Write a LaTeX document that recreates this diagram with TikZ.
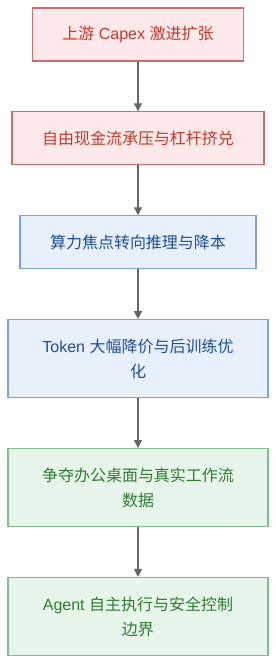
\documentclass[tikz,border=0pt]{standalone}
\usepackage{fontspec}
\setmainfont{Liberation Sans}
\newfontfamily\cjk{Noto Sans CJK SC}
\usetikzlibrary{arrows.meta, positioning}

\definecolor{redfill}{HTML}{FDE9E9}
\definecolor{redline}{HTML}{D46A6A}
\definecolor{redtext}{HTML}{C0392B}
\definecolor{bluefill}{HTML}{E8F0FC}
\definecolor{blueline}{HTML}{7AA3D9}
\definecolor{bluetext}{HTML}{1F4E96}
\definecolor{greenfill}{HTML}{E8F5EA}
\definecolor{greenline}{HTML}{7FBF8F}
\definecolor{greentext}{HTML}{2E7D32}
\definecolor{arrowgray}{HTML}{666666}

\newcommand{\zh}[1]{{\cjk #1}}

\begin{document}
\begin{tikzpicture}[
  font=\fontsize{16pt}{25pt}\selectfont,
  arrow/.style={-{Triangle[length=8pt,width=8pt]}, line width=1.1pt, arrowgray},
  box/.style={
    draw,
    line width=1.1pt,
    align=center,
    minimum height=53pt,
    inner sep=0pt
  },
  tallbox/.style={box, minimum height=78pt, minimum width=260pt},
  redbox/.style={box, fill=redfill, draw=redline, text=redtext},
  bluebox/.style={fill=bluefill, draw=blueline, text=bluetext},
  greenbox/.style={fill=greenfill, draw=greenline, text=greentext},
  node distance=49.8pt
]
\useasboundingbox (0,0) rectangle (276pt,-662pt);

% =========================
% Red: capex pressure
% =========================
\node[redbox, minimum width=211pt] (capex) at (138pt,-34.5pt)
{\zh{上游} Capex \zh{激进扩张}};

\node[redbox, minimum width=252pt, below=of capex] (cash)
{\zh{自由现金流承压与杠杆挤兑}};

% =========================
% Blue: inference & cost
% =========================
\node[box, bluebox, minimum width=236pt, below=of cash] (infer)
{\zh{算力焦点转向推理与降本}};

\node[tallbox, bluebox, below=of infer] (token)
{Token \zh{大幅降价与后训练优}\\ \zh{化}};

% =========================
% Green: workflow & agents
% =========================
\node[tallbox, greenbox, below=of token] (desk)
{\zh{争夺办公桌面与真实工作流}\\ \zh{数据}};

\node[tallbox, greenbox, below=of desk] (agent)
{Agent \zh{自主执行与安全控制}\\ \zh{边界}};

\draw[arrow] (capex) -- (cash);
\draw[arrow] (cash) -- (infer);
\draw[arrow] (infer) -- (token);
\draw[arrow] (token) -- (desk);
\draw[arrow] (desk) -- (agent);

\end{tikzpicture}
\end{document}
